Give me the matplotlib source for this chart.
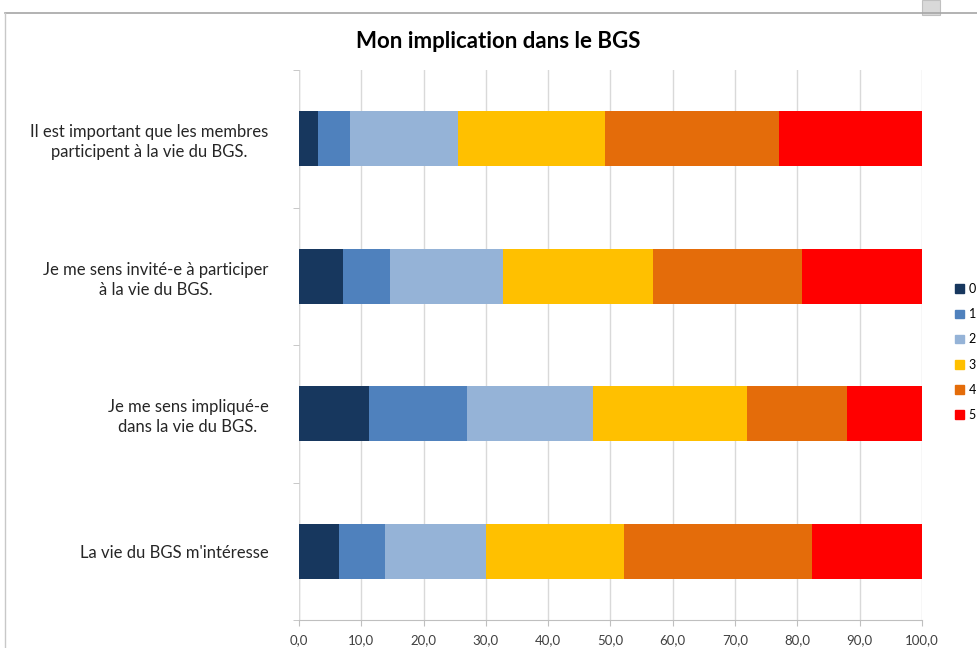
import matplotlib
matplotlib.use("Agg")
import matplotlib.pyplot as plt
from matplotlib.patches import Rectangle
from matplotlib.lines import Line2D
import numpy as np

plt.rcParams['font.family'] = ['Lato', 'DejaVu Sans']

categories = [
    "Il est important que les membres\nparticipent à la vie du BGS.",
    "Je me sens invité-e à participer\nà la vie du BGS.",
    "Je me sens impliqué-e\ndans la vie du BGS.",
    "La vie du BGS m'intéresse",
]
series_names = ["0", "1", "2", "3", "4", "5"]
values = {
    "0": [3.0, 7.0, 11.3, 6.5],
    "1": [5.2, 7.6, 15.7, 7.3],
    "2": [17.4, 18.2, 20.2, 16.2],
    "3": [23.5, 24.0, 24.7, 22.1],
    "4": [27.9, 24.0, 16.0, 30.2],
    "5": [23.0, 19.2, 12.1, 17.7],
}
colors = ["#17375e", "#4f81bd", "#95b3d7", "#ffc000", "#e46c0a", "#ff0000"]
xticks = np.arange(0, 101, 10)
xtick_labels = [f"{t:.1f}".replace(".", ",") for t in xticks]
title = "Mon implication dans le BGS"

W, H = 978, 648
fig = plt.figure(figsize=(W / 100, H / 100), dpi=100)

# outer frame of the chart area
fig.add_artist(Line2D([5 / W, 1.0], [1 - 13 / H, 1 - 13 / H], transform=fig.transFigure,
                      color="#a6a6a6", lw=1.2))
fig.add_artist(Line2D([5 / W, 5 / W], [0, 1 - 13 / H], transform=fig.transFigure,
                      color="#c8c8c8", lw=1.0))
fig.add_artist(Rectangle((922 / W, 1 - 15 / H), 18 / W, 15 / H, transform=fig.transFigure,
                         facecolor="#d9d9d9", edgecolor="#c0c0c0", lw=0.8))

left, right, top, bottom = 299, 922, 70, 620
ax = fig.add_axes([left / W, 1 - bottom / H, (right - left) / W, (bottom - top) / H])

y = np.arange(len(categories))
cum = np.zeros(len(categories))
for name, col in zip(series_names, colors):
    v = np.array(values[name])
    ax.barh(y, v, left=cum, height=0.4, color=col, label=name, zorder=3)
    cum += v

ax.set_xlim(0, 100)
ax.set_ylim(len(categories) - 0.5, -0.5)
ax.set_xticks(xticks)
ax.set_xticklabels(xtick_labels, fontsize=9.5, color="#404040")
ax.set_yticks(y)
ax.set_yticklabels(categories, fontsize=12, color="#262626", multialignment="center",
                   linespacing=1.3)
ax.set_yticks(np.arange(-0.5, len(categories), 1.0), minor=True)
ax.tick_params(axis="y", which="major", length=0, pad=22)
ax.tick_params(axis="y", which="minor", length=4, color="#bfbfbf", direction="out")
ax.tick_params(axis="x", length=4, color="#bfbfbf", direction="out", pad=6)
ax.grid(axis="x", color="#d9d9d9", lw=1.0, zorder=0)
for s in ["top", "right", "left"]:
    ax.spines[s].set_visible(False)
ax.spines["bottom"].set_color("#bfbfbf")
ax.axvline(0, color="#d9d9d9", lw=1.0, zorder=1)

fig.text(498 / W, 1 - 41 / H, title, ha="center", va="center", fontsize=16,
         fontweight="bold", color="#000000")

handles = [Rectangle((0, 0), 1, 1, color=c) for c in colors]
leg = fig.legend(handles, series_names, loc="center left",
                 bbox_to_anchor=(955 / W, 1 - 352 / H), frameon=False, fontsize=9,
                 handlelength=0.7, handleheight=0.7, handletextpad=0.4,
                 labelspacing=1.05, borderaxespad=0, borderpad=0)

fig.savefig("out.png", dpi=100)
